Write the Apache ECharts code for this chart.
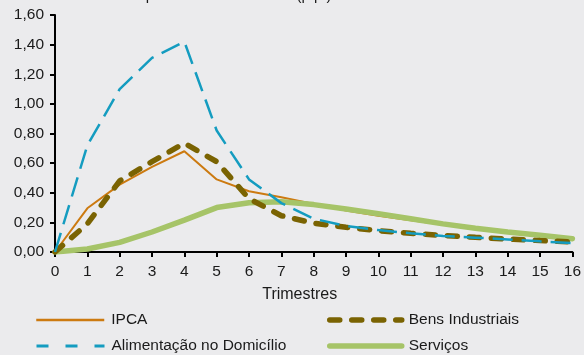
<!DOCTYPE html>
<html>
<head>
<meta charset="utf-8">
<script src="https://cdn.jsdelivr.net/npm/echarts@6/dist/echarts.min.js"></script>
<style>
  html, body { margin: 0; padding: 0; background: #ebebed; }
  #chart { width: 584px; height: 355px; }
</style>
</head>
<body>
<div id="chart"></div>
<script>
// Quarters after the shock (x axis categories)
const quarters = ['0','1','2','3','4','5','6','7','8','9','10','11','12','13','14','15','16'];

// Cumulative response by group (p.p.)
const ipca        = [0, 0.295, 0.455, 0.575, 0.68, 0.49, 0.41, 0.37, 0.325, 0.28, 0.245, 0.215, 0.185, 0.155, 0.13, 0.108, 0.088];
const alimentacao = [0, 0.72, 1.10, 1.31, 1.42, 0.82, 0.49, 0.33, 0.225, 0.175, 0.148, 0.126, 0.108, 0.097, 0.085, 0.072, 0.06];
const bens        = [0, 0.19, 0.48, 0.61, 0.735, 0.61, 0.36, 0.245, 0.195, 0.167, 0.144, 0.126, 0.112, 0.099, 0.087, 0.077, 0.068];
const servicos    = [0, 0.02, 0.065, 0.135, 0.215, 0.30, 0.333, 0.34, 0.32, 0.29, 0.258, 0.225, 0.19, 0.16, 0.135, 0.113, 0.09];

// Y axis range and step
const yMin = 0, yMax = 1.6, yStep = 0.2;

const font = 'Liberation Sans, Arial, sans-serif';
const txt = '#1a1a1a';

const styles = {
  ipca:  { color: '#cc7a10', width: 2 },
  serv:  { color: '#a6c468', width: 5.5, cap: 'round' },
  bens:  { color: '#7a6302', width: 5.5, type: [10, 12], cap: 'round' },
  alim:  { color: '#149cc0', width: 2.5, type: [20, 9] }
};

// One legend entry per slot, laid out in two columns of two rows
function legendEntry(name, left, top, width, lineStyle) {
  return {
    data: [name],
    left: left, top: top,
    itemWidth: width, itemHeight: 14,
    itemStyle: { opacity: 0 },
    lineStyle: lineStyle,
    textStyle: { fontFamily: font, fontSize: 15.5, color: txt, padding: [0, 0, 0, 2] }
  };
}

const chart = echarts.init(document.getElementById('chart'), null, { renderer: 'canvas' });

chart.setOption({
  backgroundColor: '#ebebed',
  animation: false,
  title: {
    text: 'Impacto acumulado total (p.p.)',
    left: 124,
    top: -17,
    textStyle: { fontFamily: font, fontSize: 15, fontWeight: 'normal', color: txt }
  },
  grid: { left: 55, right: 8, top: 15, bottom: 103 },
  legend: [
    legendEntry('IPCA', 30, 307, 68, { width: 2.5 }),
    legendEntry('Alimentação no Domicílio', 30, 333, 68, { width: 3, type: [12, 17] }),
    legendEntry('Bens Industriais', 322, 307, 72, { width: 5.5, type: [10, 12], cap: 'round' }),
    legendEntry('Serviços', 322, 333, 72, { width: 5.5, cap: 'round' })
  ],
  xAxis: {
    type: 'category',
    data: quarters,
    boundaryGap: false,
    name: 'Trimestres',
    nameLocation: 'middle',
    nameGap: 35,
    nameTextStyle: { fontFamily: font, fontSize: 16, color: txt, padding: [0, 28, 0, 0] },
    axisLine: { lineStyle: { color: '#000', width: 2 } },
    axisTick: { show: true, length: 5, lineStyle: { color: '#000', width: 2 }, alignWithLabel: true },
    axisLabel: { fontFamily: font, fontSize: 15.5, color: txt, margin: 12 },
    splitLine: { show: false }
  },
  yAxis: {
    type: 'value',
    min: yMin, max: yMax, interval: yStep,
    axisLine: { show: true, lineStyle: { color: '#000', width: 2 } },
    axisTick: { show: true, length: 5, lineStyle: { color: '#000', width: 2 } },
    axisLabel: {
      fontFamily: font, fontSize: 15.5, color: txt, margin: 11,
      formatter: v => v.toFixed(2).replace('.', ',')
    },
    splitLine: { show: false }
  },
  series: [
    {
      name: 'IPCA', type: 'line', data: ipca, symbol: 'none',
      lineStyle: styles.ipca, itemStyle: { color: styles.ipca.color }
    },
    {
      name: 'Serviços', type: 'line', data: servicos, symbol: 'none',
      lineStyle: styles.serv, itemStyle: { color: styles.serv.color }
    },
    {
      name: 'Bens Industriais', type: 'line', data: bens, symbol: 'none',
      lineStyle: styles.bens, itemStyle: { color: styles.bens.color }
    },
    {
      name: 'Alimentação no Domicílio', type: 'line', data: alimentacao, symbol: 'none',
      lineStyle: styles.alim, itemStyle: { color: styles.alim.color }
    }
  ]
});
</script>
</body>
</html>
